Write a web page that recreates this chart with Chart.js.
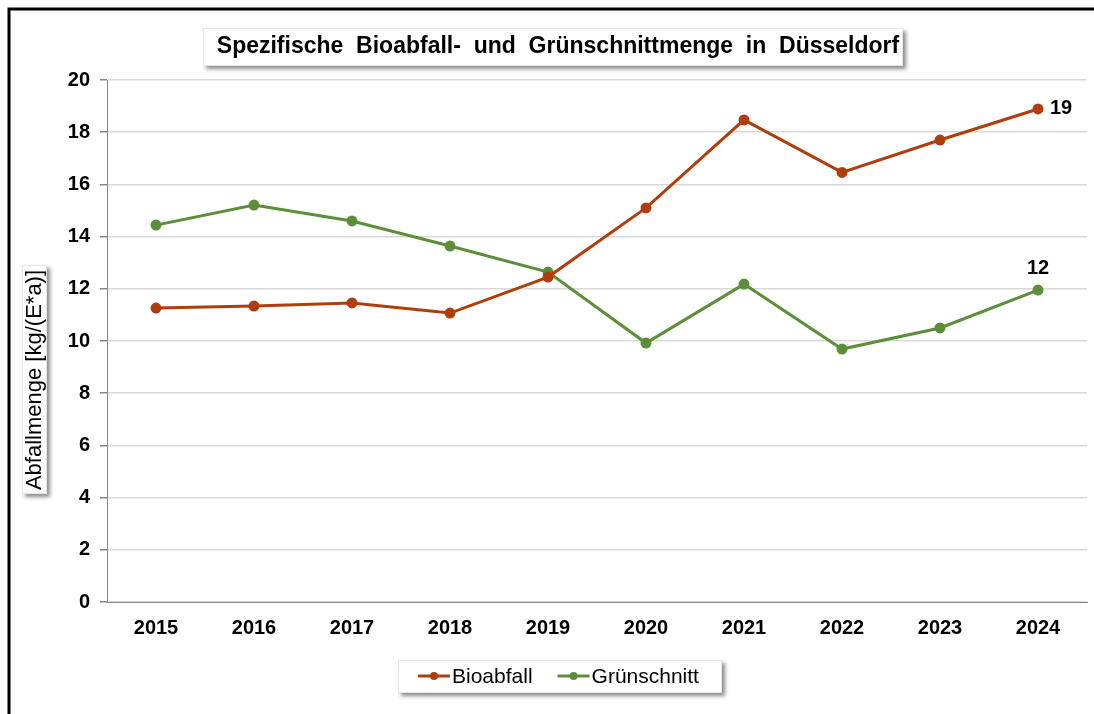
<!DOCTYPE html>
<html>
<head>
<meta charset="utf-8">
<script src="https://cdn.jsdelivr.net/npm/chart.js@4"></script>
<style>
html,body{margin:0;padding:0;background:#fff;}
#wrap{position:absolute;left:0;top:0;width:1094px;height:714px;}
</style>
</head>
<body>
<div id="wrap"><canvas id="c" width="1094" height="714"></canvas></div>
<script>
const years = ['2015','2016','2017','2018','2019','2020','2021','2022','2023','2024'];
const bioabfall = [11.26, 11.34, 11.46, 11.07, 12.45, 15.1, 18.47, 16.46, 17.7, 18.89];
const gruenschnitt = [14.44, 15.21, 14.6, 13.64, 12.64, 9.92, 12.18, 9.69, 10.5, 11.95];
const seriesNames = ['Bioabfall', 'Grünschnitt'];
const seriesColors = ['#B03E0C', '#5B8F3A'];
const yTicks = [0, 2, 4, 6, 8, 10, 12, 14, 16, 18, 20];
const endLabels = ['19', '12'];
const titleText = 'Spezifische  Bioabfall-  und  Grünschnittmenge  in  Düsseldorf';
const yTitleText = 'Abfallmenge [kg/(E*a)]';

const FONT = '"Liberation Sans", Arial, sans-serif';

function shadowBox(ctx, x, y, w, h) {
  ctx.save();
  ctx.shadowColor = 'rgba(0,0,0,0.45)';
  ctx.shadowOffsetX = 3;
  ctx.shadowOffsetY = 3;
  ctx.shadowBlur = 4;
  ctx.fillStyle = '#fff';
  ctx.fillRect(x, y, w, h);
  ctx.restore();
  ctx.save();
  ctx.strokeStyle = '#e6e6e6';
  ctx.lineWidth = 1;
  ctx.strokeRect(x + 0.5, y + 0.5, w - 1, h - 1);
  ctx.restore();
}

const decorPlugin = {
  id: 'decor',
  beforeDraw(chart) {
    const ctx = chart.ctx;
    ctx.save();
    ctx.fillStyle = '#fff';
    ctx.fillRect(0, 0, chart.width, chart.height);
    ctx.restore();
  },
  afterDraw(chart) {
    const ctx = chart.ctx;
    // outer frame
    ctx.save();
    ctx.strokeStyle = '#000';
    ctx.lineWidth = 3;
    ctx.strokeRect(9, 9, 1200, 800);
    ctx.restore();

    // title
    shadowBox(ctx, 203, 28, 700, 38);
    ctx.save();
    ctx.fillStyle = '#000';
    ctx.font = 'bold 23px ' + FONT;
    ctx.textAlign = 'center';
    ctx.textBaseline = 'middle';
    ctx.fillText(titleText, 558, 47);
    ctx.restore();

    // y-axis title
    shadowBox(ctx, 22, 265, 25, 229);
    ctx.save();
    ctx.translate(35, 380);
    ctx.rotate(-Math.PI / 2);
    ctx.fillStyle = '#000';
    ctx.font = '22px ' + FONT;
    ctx.textAlign = 'center';
    ctx.textBaseline = 'middle';
    ctx.fillText(yTitleText, 0, 0);
    ctx.restore();

    // end labels
    ctx.save();
    ctx.fillStyle = '#000';
    ctx.font = 'bold 20px ' + FONT;
    ctx.textBaseline = 'middle';
    const m0 = chart.getDatasetMeta(0).data;
    const p0 = m0[m0.length - 1];
    ctx.textAlign = 'left';
    ctx.fillText(endLabels[0], p0.x + 12, p0.y);
    const m1 = chart.getDatasetMeta(1).data;
    const p1 = m1[m1.length - 1];
    ctx.textAlign = 'center';
    ctx.fillText(endLabels[1], p1.x, p1.y - 22);
    ctx.restore();

    // legend
    shadowBox(ctx, 398, 660, 324, 33);
    ctx.save();
    ctx.font = '21px ' + FONT;
    ctx.textBaseline = 'middle';
    ctx.textAlign = 'left';
    let x = 418;
    const ly = 676;
    chart.data.datasets.forEach((ds) => {
      ctx.strokeStyle = ds.borderColor;
      ctx.lineWidth = 3;
      ctx.beginPath();
      ctx.moveTo(x, ly);
      ctx.lineTo(x + 32, ly);
      ctx.stroke();
      ctx.fillStyle = ds.borderColor;
      ctx.beginPath();
      ctx.arc(x + 16, ly, 4, 0, Math.PI * 2);
      ctx.fill();
      ctx.fillStyle = '#000';
      ctx.fillText(ds.label, x + 34, ly + 1);
      x += 34 + ctx.measureText(ds.label).width + 25;
    });
    ctx.restore();
  }
};

new Chart(document.getElementById('c'), {
  type: 'line',
  data: {
    labels: years,
    datasets: [
      { label: seriesNames[0], data: bioabfall, borderColor: seriesColors[0], backgroundColor: seriesColors[0],
        borderWidth: 3, pointRadius: 4, pointHoverRadius: 4, tension: 0 },
      { label: seriesNames[1], data: gruenschnitt, borderColor: seriesColors[1], backgroundColor: seriesColors[1],
        borderWidth: 3, pointRadius: 4, pointHoverRadius: 4, tension: 0 }
    ]
  },
  options: {
    responsive: false,
    animation: false,
    devicePixelRatio: 1,
    layout: { padding: { left: 0, top: 80, right: 5, bottom: 0 } },
    plugins: { legend: { display: false }, title: { display: false }, tooltip: { enabled: false } },
    scales: {
      x: {
        offset: true,
        grid: { display: false },
        border: { display: true, color: '#868686', width: 1 },
        ticks: { color: '#000', font: { family: FONT, size: 20, weight: 'bold' }, padding: 6, maxRotation: 0 },
        afterFit(scale) { scale.height = 112; }
      },
      y: {
        min: 0, max: 20,
        afterBuildTicks(scale) { scale.ticks = yTicks.map(v => ({ value: v })); },
        grid: { color: '#d9d9d9', lineWidth: 1.5, tickLength: 7, tickColor: '#868686', drawTicks: true },
        border: { display: true, color: '#868686', width: 1 },
        ticks: { color: '#000', font: { family: FONT, size: 20, weight: 'bold' }, padding: 10 },
        afterFit(scale) { scale.width = 107; }
      }
    }
  },
  plugins: [decorPlugin]
});
</script>
</body>
</html>
